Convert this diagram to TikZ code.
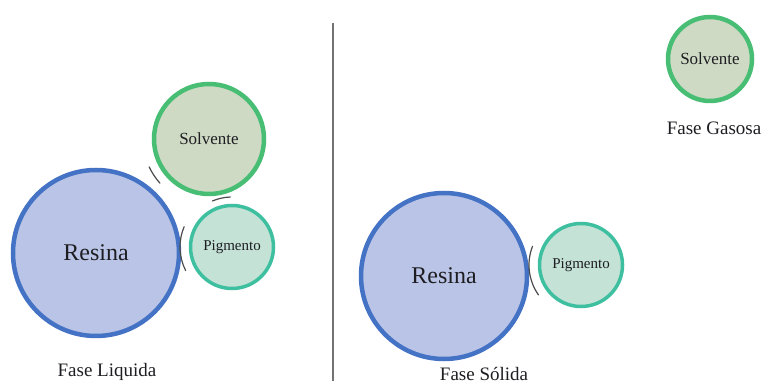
\documentclass[tikz,border=0pt]{standalone}
\usepackage{fontspec}
\setmainfont{Liberation Serif}
\usepackage{tikz}

\definecolor{resinaline}{RGB}{68,114,196}
\definecolor{resinafill}{RGB}{186,196,230}
\definecolor{solvline}{RGB}{72,190,116}
\definecolor{solvfill}{RGB}{206,218,196}
\definecolor{pigline}{RGB}{62,192,160}
\definecolor{pigfill}{RGB}{196,226,214}
\definecolor{textdark}{RGB}{30,30,34}

\tikzset{
  ball/.style={circle, inner sep=0pt, text=textdark},
  resina/.style={ball, draw=resinaline, fill=resinafill, line width=4.5pt,
    minimum size=166pt, font=\fontsize{24}{26}\selectfont},
  solvente/.style={ball, draw=solvline, fill=solvfill, line width=4.5pt,
    font=\fontsize{17}{19}\selectfont},
  pigmento/.style={ball, draw=pigline, fill=pigfill, line width=3.5pt,
    minimum size=83pt, font=\fontsize{15}{17}\selectfont},
  fase/.style={text=textdark, font=\fontsize{19}{21}\selectfont},
  contact/.style={draw=black!70, line width=1.2pt, line cap=round}
}

\begin{document}
\begin{tikzpicture}[x=1pt, y=1pt]
      \useasboundingbox (0, 0) rectangle (778, 385);

      % fase liquida
      \node[resina] (RL) at (96, 132) {Resina};
      \node[solvente, minimum size=110pt] (SL) at (209, 246) {Solvente};
      \node[pigmento] (PL) at (232, 138) {Pigmento};
      \node[fase] (FL) at (107, 13) {Fase Liquida};

      % separador
      \coordinate (top) at (333, 362);
      \coordinate (bot) at (333, 4);
      \draw[black!55, line width=1.8pt] (top) -- (bot);

      % fase solida
      \node[resina] (RS) at (444, 109) {Resina};
      \node[pigmento] (PS) at (581, 120) {Pigmento};
      \node[fase] (FS) at (484, 11) {Fase Sólida};

      % fase gasosa
      \node[solvente, minimum size=84pt] (SG) at (710, 326) {Solvente};
      \node[fase] (FG) at (714, 257) {Fase Gasosa};

      % contatos
      \draw[contact] ([shift={(205:66)}]SL.center) arc (205:222:66);
      \draw[contact] ([shift={(92:50)}]PL.center) arc (92:113:50);
      \draw[contact] ([shift={(157:52)}]PL.center) arc (157:207:52);
      \draw[contact] ([shift={(159:52)}]PS.center) arc (159:215:52);
    \end{tikzpicture}
\end{document}
